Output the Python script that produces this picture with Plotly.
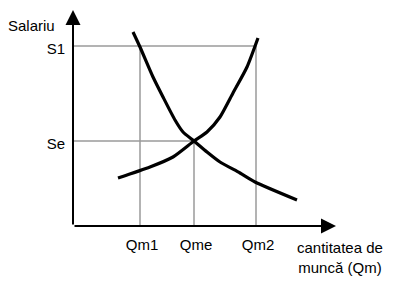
import plotly.graph_objects as go

# ---- data (quantity of labour on x, wage on y) ----
demand_q = [6.0, 6.7, 8.0, 9.0, 10.2, 11.0, 12.1, 13.4, 14.7, 16.7, 18.2, 22.4]
demand_w = [19.4, 17.9, 14.9, 12.9, 10.6, 9.4, 8.5, 7.4, 6.4, 5.3, 4.4, 2.6]
supply_q = [4.5, 7.7, 10.0, 12.1, 13.4, 14.7, 16.0, 17.4, 18.5]
supply_w = [4.8, 5.9, 6.9, 8.5, 9.4, 10.9, 13.3, 15.9, 18.8]

q_ticks = [6.7, 12.1, 18.3]
q_labels = ["Qm1", "Qme", "Qm2"]
w_ticks = [8.5, 18.0]
w_labels = ["Se", "S1"]

x_axis_end = 26.3
y_axis_end = 21.6

FONT = "Liberation Sans, Arial, sans-serif"
GRID = "#9a9a9a"

fig = go.Figure()

Qm1, Qme, Qm2 = q_ticks
Se, S1 = w_ticks

# guide lines
guides = [
    ([0, Qm2], [S1, S1]),
    ([0, Qme], [Se, Se]),
    ([Qm1, Qm1], [0, S1]),
    ([Qme, Qme], [0, Se]),
    ([Qm2, Qm2], [0, S1]),
]
for gx, gy in guides:
    fig.add_trace(go.Scatter(x=gx, y=gy, mode="lines",
                             line=dict(color=GRID, width=1.5),
                             hoverinfo="skip", showlegend=False))

# curves
fig.add_trace(go.Scatter(x=demand_q, y=demand_w, mode="lines",
                         line=dict(color="black", width=3.2, shape="spline", smoothing=0.6),
                         showlegend=False, cliponaxis=False))
fig.add_trace(go.Scatter(x=supply_q, y=supply_w, mode="lines",
                         line=dict(color="black", width=3.2, shape="spline", smoothing=0.6),
                         showlegend=False, cliponaxis=False))

# axes with arrow heads
fig.add_annotation(x=x_axis_end, y=0, ax=0, ay=0, axref="x", ayref="y",
                   xref="x", yref="y", text="", showarrow=True,
                   arrowhead=2, arrowwidth=2, arrowsize=1.5, arrowcolor="black")
fig.add_annotation(x=0, y=y_axis_end, ax=0, ay=0, axref="x", ayref="y",
                   xref="x", yref="y", text="", showarrow=True,
                   arrowhead=2, arrowwidth=2, arrowsize=1.5, arrowcolor="black")

# axis titles
fig.add_annotation(text="Salariu", xref="paper", yref="y", x=0, y=20.1,
                   xanchor="right", yanchor="middle", xshift=-16,
                   showarrow=False, font=dict(family=FONT, size=15, color="black"))
fig.add_annotation(text="cantitatea de<br>muncă (Qm)", xref="x", yref="paper",
                   x=26.7, y=-0.139, xanchor="center", yanchor="middle",
                   showarrow=False, font=dict(family=FONT, size=15, color="black"))

fig.update_layout(
    width=394, height=285,
    margin=dict(l=73, r=0, t=0, b=59),
    paper_bgcolor="white", plot_bgcolor="white",
    font=dict(family=FONT, size=15, color="black"),
    xaxis=dict(range=[0, 32.1], showgrid=False, zeroline=False, showline=False,
               tickvals=q_ticks, ticktext=q_labels, ticks="",
               ticklabelstandoff=8, ticklabelshift=2,
               tickfont=dict(family=FONT, size=15, color="black")),
    yaxis=dict(range=[0, 22.6], showgrid=False, zeroline=False, showline=False,
               tickvals=w_ticks, ticktext=w_labels, ticks="",
               ticklabelstandoff=7, ticklabelshift=3,
               tickfont=dict(family=FONT, size=15, color="black")),
)

fig.write_html("out.html")
